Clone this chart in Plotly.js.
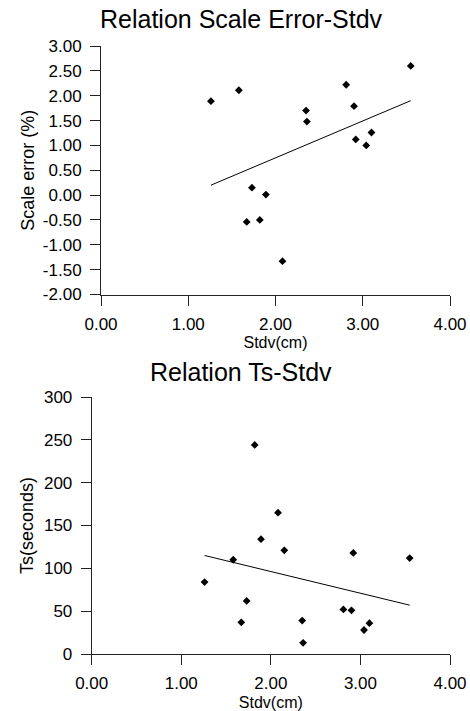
<!DOCTYPE html>
<html>
<head>
<meta charset="utf-8">
<script src="https://cdn.plot.ly/plotly-3.0.1.min.js"></script>
<style>html,body{margin:0;padding:0;background:#fff;}#chart{width:470px;height:711px;}</style>
</head>
<body>
<div id="chart"></div>
<script>
// Top chart: Scale error vs Stdv
const stdvScale = [1.26, 1.58, 2.35, 2.36, 2.81, 2.90, 3.55, 2.92, 3.10, 3.04, 1.73, 1.89, 1.67, 1.82, 2.08];
const scaleError = [1.89, 2.11, 1.70, 1.48, 2.22, 1.79, 2.60, 1.12, 1.26, 1.00, 0.15, 0.01, -0.54, -0.50, -1.33];
const trendScaleX = [1.26, 3.55];
const trendScaleY = [0.20, 1.90];

// Bottom chart: Ts vs Stdv
const stdvTs = [1.82, 2.08, 1.89, 2.15, 2.92, 3.55, 1.58, 1.26, 1.73, 1.67, 2.35, 2.36, 2.81, 2.90, 3.04, 3.10];
const tsSeconds = [244, 165, 134, 121, 118, 112, 110, 84, 62, 37, 39, 13, 52, 51, 28, 36];
const trendTsX = [1.26, 3.55];
const trendTsY = [115, 57];

// Tick values and labels
const xTicks = [0, 1, 2, 3, 4];
const xTickLabels = ['0.00', '1.00', '2.00', '3.00', '4.00'];
const yTicksScale = [-2, -1.5, -1, -0.5, 0, 0.5, 1, 1.5, 2, 2.5, 3];
const yTickLabelsScale = ['-2.00', '-1.50', '-1.00', '-0.50', '0.00', '0.50', '1.00', '1.50', '2.00', '2.50', '3.00'];
const yTicksTs = [0, 50, 100, 150, 200, 250, 300];
const yTickLabelsTs = ['0', '50', '100', '150', '200', '250', '300'];

const FONT = 'Arial, "Liberation Sans", sans-serif';
const W = 470, H = 711;
const px = v => v / W;
const py = v => 1 - v / H;

const marker = {symbol: 'diamond', size: 6, color: '#000'};
const traces = [
  {x: stdvScale, y: scaleError, type: 'scatter', mode: 'markers', marker: marker, xaxis: 'x', yaxis: 'y'},
  {x: trendScaleX, y: trendScaleY, type: 'scatter', mode: 'lines', line: {color: '#000', width: 1}, xaxis: 'x', yaxis: 'y'},
  {x: stdvTs, y: tsSeconds, type: 'scatter', mode: 'markers', marker: marker, xaxis: 'x2', yaxis: 'y2'},
  {x: trendTsX, y: trendTsY, type: 'scatter', mode: 'lines', line: {color: '#000', width: 1}, xaxis: 'x2', yaxis: 'y2'}
];

const axisCommon = {
  showline: true, linecolor: '#222', linewidth: 1,
  ticks: 'outside', ticklen: 10, tickcolor: '#222', tickwidth: 1,
  showgrid: false, zeroline: false, automargin: false,
  tickmode: 'array',
  tickfont: {family: FONT, size: 17, color: '#000'}
};

const layout = {
  width: W, height: H,
  margin: {l: 0, r: 0, t: 0, b: 0},
  paper_bgcolor: '#fff', plot_bgcolor: '#fff',
  showlegend: false,
  font: {family: FONT, color: '#000'},
  xaxis: Object.assign({}, axisCommon, {
    domain: [px(101), px(450)], anchor: 'y', range: [0, 4],
    tickvals: xTicks, ticktext: xTickLabels, ticklabelstandoff: 4,
    title: {text: 'Stdv(cm)', font: {family: FONT, size: 16, color: '#000'}, standoff: 3}
  }),
  yaxis: Object.assign({}, axisCommon, {
    domain: [py(294.5), py(46)], anchor: 'x', range: [-2, 3],
    tickvals: yTicksScale, ticktext: yTickLabelsScale, ticklabelstandoff: 5,
    title: {text: 'Scale error (%)', font: {family: FONT, size: 18, color: '#000'}, standoff: 3}
  }),
  xaxis2: Object.assign({}, axisCommon, {
    domain: [px(91.7), px(450)], anchor: 'y2', range: [0, 4],
    tickvals: xTicks, ticktext: xTickLabels, ticklabelstandoff: 4,
    title: {text: 'Stdv(cm)', font: {family: FONT, size: 16, color: '#000'}, standoff: 4}
  }),
  yaxis2: Object.assign({}, axisCommon, {
    domain: [py(654), py(397)], anchor: 'x2', range: [0, 300],
    tickvals: yTicksTs, ticktext: yTickLabelsTs, ticklabelstandoff: 5,
    title: {text: 'Ts(seconds)', font: {family: FONT, size: 18, color: '#000'}, standoff: 5}
  }),
  annotations: [
    {text: 'Relation Scale Error-Stdv', xref: 'paper', yref: 'paper', x: px(241.5), y: py(19), xanchor: 'center', yanchor: 'middle', showarrow: false, font: {family: FONT, size: 25, color: '#000'}},
    {text: 'Relation Ts-Stdv', xref: 'paper', yref: 'paper', x: px(240.5), y: py(372), xanchor: 'center', yanchor: 'middle', showarrow: false, font: {family: FONT, size: 25, color: '#000'}}
  ]
};

Plotly.newPlot('chart', traces, layout, {staticPlot: true, displayModeBar: false});
</script>
</body>
</html>
